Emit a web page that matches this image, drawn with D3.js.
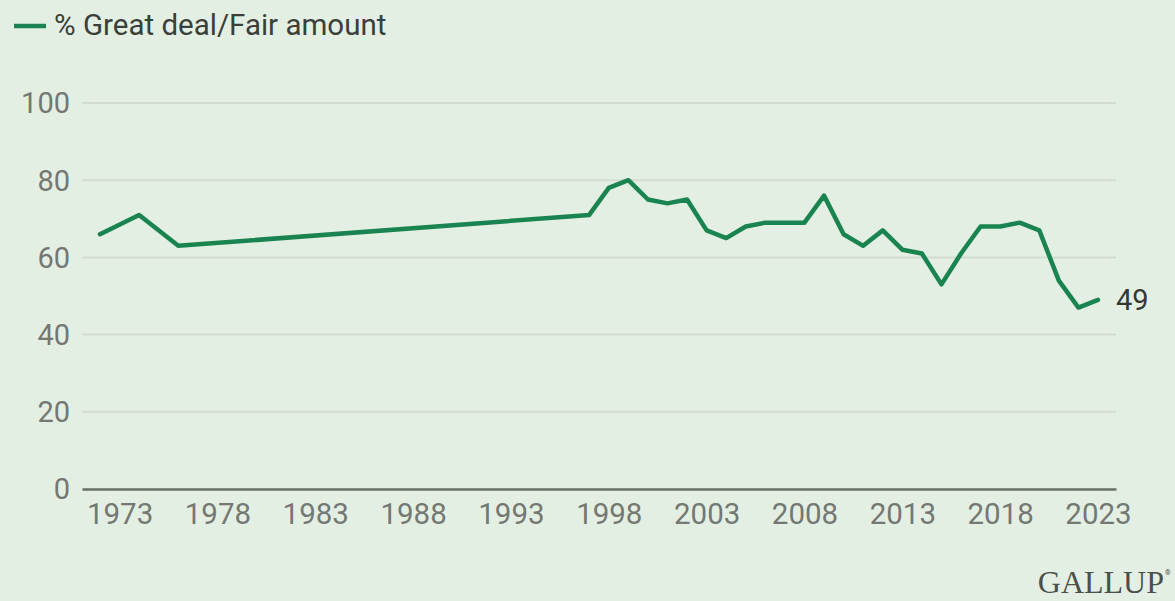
<!DOCTYPE html>
<html>
<head>
<meta charset="utf-8">
<script src="https://cdn.jsdelivr.net/npm/d3@7"></script>
<style>
  html, body { margin: 0; padding: 0; background: #e4efe3; }
  svg { display: block; }
</style>
</head>
<body>
<svg id="chart" width="1175" height="601"></svg>
<script>
const years = [1972, 1974, 1976, 1997, 1998, 1999, 2000, 2001, 2002, 2003, 2004, 2005, 2006, 2007, 2008, 2009, 2010, 2011, 2012, 2013, 2014, 2015, 2016, 2017, 2018, 2019, 2020, 2021, 2022, 2023];
const values = [66, 71, 63, 71, 78, 80, 75, 74, 75, 67, 65, 68, 69, 69, 69, 76, 66, 63, 67, 62, 61, 53, 61, 68, 68, 69, 67, 54, 47, 49];
const xTicks = [1973, 1978, 1983, 1988, 1993, 1998, 2003, 2008, 2013, 2018, 2023];
const yTicks = [0, 20, 40, 60, 80, 100];
const seriesName = "% Great deal/Fair amount";

const W = 1175, H = 601;
const svg = d3.select("#chart");
const font = "Roboto, 'Noto Sans', sans-serif";
const green = "#1a8450";

svg.append("rect").attr("width", W).attr("height", H).attr("fill", "#e4efe3");

const x = d3.scaleLinear().domain([1971.08, 2023.92]).range([82, 1116]);
const y = d3.scaleLinear().domain([0, 100]).range([489, 103]);

// gridlines
svg.append("g").selectAll("line").data(yTicks.filter(d => d > 0)).join("line")
  .attr("x1", 82).attr("x2", 1116)
  .attr("y1", d => y(d)).attr("y2", d => y(d))
  .attr("stroke", "#d3dcd2").attr("stroke-width", 2);

// y labels
svg.append("g").selectAll("text").data(yTicks).join("text")
  .attr("x", 70).attr("y", d => y(d)).attr("dy", "0.36em")
  .attr("text-anchor", "end")
  .attr("font-family", font).attr("font-size", 29).attr("fill", "#737873")
  .text(d => d);

// x axis
const xAxis = d3.axisBottom(x).tickValues(xTicks).tickFormat(d3.format("d")).tickSize(0).tickPadding(14);
const gx = svg.append("g").attr("transform", `translate(0,${y(0)})`).call(xAxis);
gx.select(".domain").attr("stroke", "#687068").attr("stroke-width", 2.5);
gx.selectAll("text").attr("font-family", font).attr("font-size", 29.5).attr("fill", "#737873");

// line
const line = d3.line().x((d, i) => x(years[i])).y(d => y(d));
svg.append("path").datum(values)
  .attr("d", line).attr("fill", "none")
  .attr("stroke", green).attr("stroke-width", 4.5)
  .attr("stroke-linejoin", "round").attr("stroke-linecap", "round");

// end label
svg.append("text")
  .attr("x", x(years[years.length - 1]) + 18).attr("y", y(values[values.length - 1])).attr("dy", "0.36em")
  .attr("font-family", font).attr("font-size", 29).attr("fill", "#333833")
  .text(values[values.length - 1]);

// legend
svg.append("line").attr("x1", 14).attr("x2", 46).attr("y1", 26).attr("y2", 26)
  .attr("stroke", green).attr("stroke-width", 4.5);
svg.append("text").attr("x", 54).attr("y", 35)
  .attr("font-family", font).attr("font-size", 29.5).attr("fill", "#3a3f3a")
  .text(seriesName);

// logo
svg.append("text").attr("x", 1164).attr("y", 593).attr("text-anchor", "end")
  .attr("font-family", "'Liberation Serif', 'DejaVu Serif', serif").attr("font-size", 32).attr("fill", "#4a504a")
  .text("GALLUP");
svg.append("text").attr("x", 1165).attr("y", 575)
  .attr("font-family", font).attr("font-size", 7).attr("fill", "#4a504a").text("®");
</script>
</body>
</html>
